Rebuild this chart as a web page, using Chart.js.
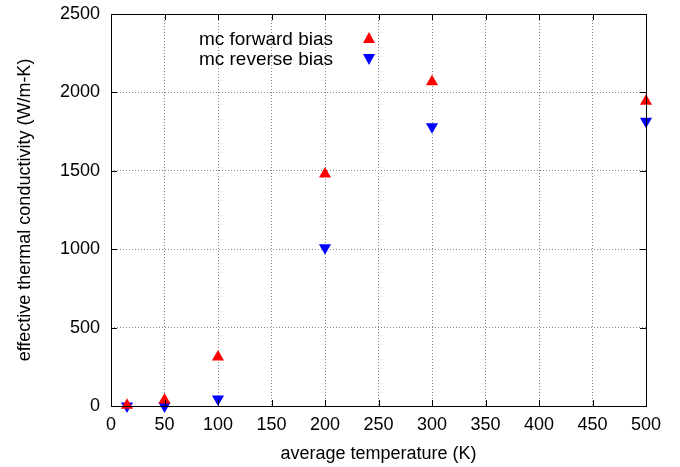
<!DOCTYPE html>
<html><head><meta charset="utf-8">
<script src="https://cdn.jsdelivr.net/npm/chart.js@4"></script>
<style>html,body{margin:0;padding:0;background:#fff}#wrap{width:680px;height:467px}</style>
</head><body><div id="wrap"><canvas id="c" width="680" height="467"></canvas></div>
<script>
const temps = [15, 50, 100, 200, 300, 500];
const forwardBias = [5, 38, 312, 1480, 2068, 1943];
const reverseBias = [0, 0, 45, 1010, 1781, 1816];
const xTicks = [0,50,100,150,200,250,300,350,400,450,500];
const yTicks = [0,500,1000,1500,2000,2500];
const seriesNames = ['mc forward bias', 'mc reverse bias'];
const FONT = "'Liberation Sans', Arial, sans-serif";

const frame = {
  id: 'frame',
  afterDraw(chart) {
    const ctx = chart.ctx, a = chart.chartArea;
    const xs = chart.scales.x, ys = chart.scales.y;
    ctx.save();
    ctx.strokeStyle = '#000'; ctx.lineWidth = 1;
    ctx.beginPath();
    xTicks.forEach(v => { const px = Math.round(xs.getPixelForValue(v)) + 0.5;
      ctx.moveTo(px, a.bottom); ctx.lineTo(px, a.bottom - 6);
      ctx.moveTo(px, a.top); ctx.lineTo(px, a.top + 6); });
    yTicks.forEach(v => { const py = Math.round(ys.getPixelForValue(v)) + 0.5;
      ctx.moveTo(a.left, py); ctx.lineTo(a.left + 6, py);
      ctx.moveTo(a.right, py); ctx.lineTo(a.right - 6, py); });
    ctx.stroke();
    ctx.strokeRect(Math.round(a.left) + 0.5, Math.round(a.top) + 0.5, Math.round(a.right - a.left), Math.round(a.bottom - a.top));
    // legend
    ctx.font = "19px " + FONT; ctx.fillStyle = '#000';
    ctx.textAlign = 'right'; ctx.textBaseline = 'middle';
    ctx.fillText(seriesNames[0], 333, 40);
    ctx.fillText(seriesNames[1], 333, 60);
    const tri = (x, y, up, col) => { ctx.fillStyle = col; ctx.beginPath();
      if (up) { ctx.moveTo(x - 6, y + 5); ctx.lineTo(x + 6, y + 5); ctx.lineTo(x, y - 6); }
      else { ctx.moveTo(x - 6, y - 5); ctx.lineTo(x + 6, y - 5); ctx.lineTo(x, y + 6); }
      ctx.closePath(); ctx.fill(); };
    tri(369, 38, true, '#ff0000');
    tri(369, 59, false, '#0000ff');
    ctx.restore();
  }
};

new Chart(document.getElementById('c'), {
  type: 'scatter',
  data: { datasets: [
    { label: seriesNames[0], data: temps.map((t,i)=>({x:t,y:forwardBias[i]})),
      pointStyle: 'triangle', rotation: 0, pointRadius: 7, backgroundColor: '#ff0000', borderColor: '#ff0000', borderWidth: 0 },
    { label: seriesNames[1], data: temps.map((t,i)=>({x:t,y:reverseBias[i]})),
      pointStyle: 'triangle', rotation: 180, pointRadius: 7, backgroundColor: '#0000ff', borderColor: '#0000ff', borderWidth: 0 }
  ]},
  options: {
    responsive: false, animation: false, clip: false,
    layout: { padding: { left: 0, top: 14, right: 34, bottom: 0 } },
    plugins: { legend: { display: false }, tooltip: { enabled: false } },
    scales: {
      x: { type: 'linear', min: 0, max: 500,
        afterBuildTicks: s => { s.ticks = xTicks.map(v=>({value:v})); },
        afterFit: s => { s.height = 61; s.paddingLeft = 0; s.paddingRight = 0; },
        ticks: { color: '#000', font: { family: FONT, size: 18 }, padding: 8, callback: v => String(v) },
        grid: { color: '#888', lineWidth: 1, drawTicks: false, tickLength: 0 },
        border: { display: false, dash: [1,2] },
        title: { display: true, text: 'average temperature (K)', color: '#000', font: { family: FONT, size: 18 }, padding: { top: 4, bottom: 2 } }
      },
      y: { type: 'linear', min: 0, max: 2500,
        afterBuildTicks: s => { s.ticks = yTicks.map(v=>({value:v})); },
        afterFit: s => { s.width = 111; s.paddingTop = 0; s.paddingBottom = 0; },
        ticks: { color: '#000', font: { family: FONT, size: 18 }, padding: 11, callback: v => String(v) },
        grid: { color: '#888', lineWidth: 1, drawTicks: false, tickLength: 0 },
        border: { display: false, dash: [1,2] },
        title: { display: true, text: 'effective thermal conductivity (W/m-K)', color: '#000', font: { family: FONT, size: 18 }, padding: { top: 14, bottom: 4 } }
      }
    }
  },
  plugins: [frame]
});
</script></body></html>
